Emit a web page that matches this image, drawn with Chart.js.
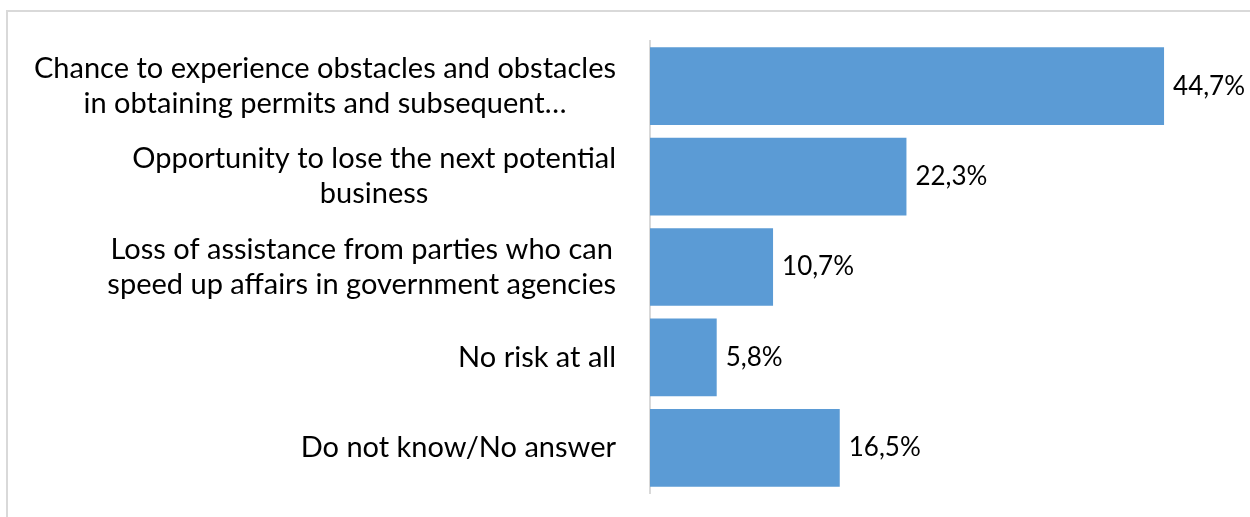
<!DOCTYPE html>
<html>
<head>
<meta charset="utf-8">
<script src="https://cdn.jsdelivr.net/npm/chart.js@4/dist/chart.umd.min.js"></script>
<style>
  html, body { margin: 0; padding: 0; background: #fff; overflow: hidden; }
  #wrap { position: relative; width: 1250px; height: 517px; }
  #frame { position: absolute; left: 6px; top: 10px; width: 1300px; height: 600px;
           border-top: 2px solid #d9d9d9; border-left: 2px solid #d9d9d9; }
  #chart { position: absolute; left: 0; top: 0; }
</style>
</head>
<body>
<div id="wrap">
  <div id="frame"></div>
  <canvas id="chart" width="1250" height="517"></canvas>
</div>
<script>
const categories = [
  ['Chance to experience obstacles and obstacles', 'in obtaining permits and subsequent\u2026'],
  ['Opportunity to lose the next potential', 'business'],
  ['Loss of assistance from parties who can', 'speed up affairs in government agencies'],
  ['No risk at all'],
  ['Do not know/No answer']
]
const shares = [44.7, 22.3, 10.7, 5.8, 16.5]

const LABEL_FONT = '29px Lato, "Open Sans", sans-serif'
const VALUE_FONT = '26px Lato, "Open Sans", sans-serif'

// category names: block right-aligned against the axis, lines centred inside it
const categoryLabels = {
  id: 'categoryLabels',
  afterDraw(chart) {
    const ctx = chart.ctx
    const area = chart.chartArea
    const y = chart.scales.y
    const right = area.left - 34
    const lineH = 35
    ctx.save()
    ctx.font = LABEL_FONT
    ctx.fillStyle = '#000'
    ctx.textAlign = 'center'
    ctx.textBaseline = 'middle'
    categories.forEach((lines, i) => {
      const w = Math.max(...lines.map(l => ctx.measureText(l).width))
      const cx = right - w / 2
      const cy = y.getPixelForTick(i)
      lines.forEach((l, j) => {
        ctx.fillText(l, cx, cy + (j - (lines.length - 1) / 2) * lineH)
      })
    })
    ctx.restore()
  }
}

// percentage at the end of each bar
const valueLabels = {
  id: 'valueLabels',
  afterDatasetsDraw(chart) {
    const ctx = chart.ctx
    const meta = chart.getDatasetMeta(0)
    ctx.save()
    ctx.font = VALUE_FONT
    ctx.fillStyle = '#000'
    ctx.textAlign = 'left'
    ctx.textBaseline = 'middle'
    meta.data.forEach((bar, i) => {
      ctx.fillText(shares[i].toFixed(1).replace('.', ',') + '%', bar.x + 9, bar.y)
    })
    ctx.restore()
  }
}

new Chart(document.getElementById('chart').getContext('2d'), {
  type: 'bar',
  data: {
    labels: categories.map(c => c.join(' ')),
    datasets: [{
      data: shares,
      backgroundColor: '#5b9bd5',
      barPercentage: 0.86,
      categoryPercentage: 1
    }]
  },
  options: {
    indexAxis: 'y',
    responsive: false,
    animation: false,
    layout: { padding: { left: 642, top: 41, bottom: 24, right: 25 } },
    plugins: { legend: { display: false }, tooltip: { enabled: false } },
    scales: {
      x: { display: false, min: 0, max: 50 },
      y: {
        ticks: { display: false },
        grid: { display: false },
        border: { display: true, color: '#d9d9d9', width: 2 }
      }
    }
  },
  plugins: [categoryLabels, valueLabels]
})
</script>
</body>
</html>
